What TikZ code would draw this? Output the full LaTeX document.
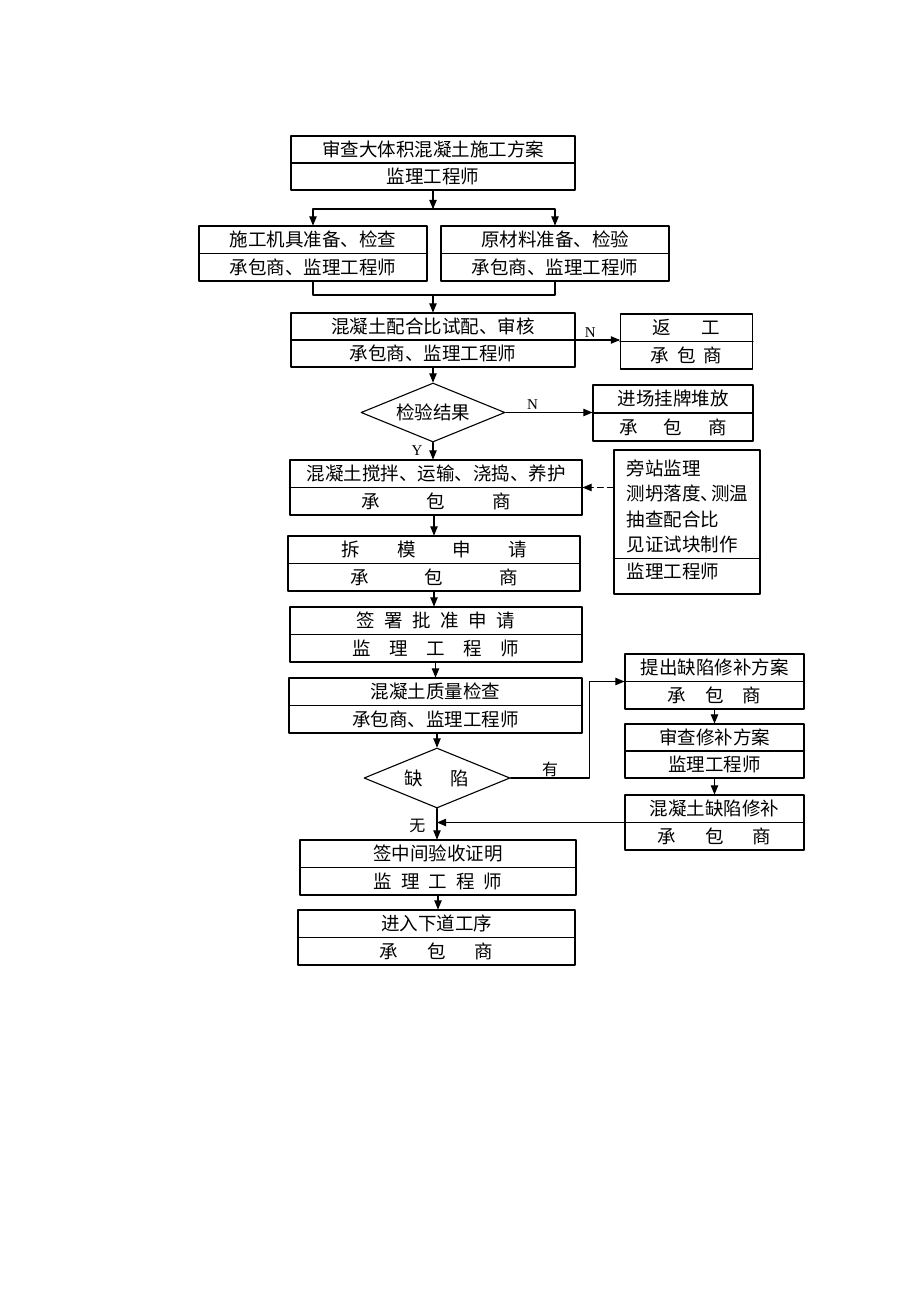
\documentclass[tikz,border=0pt]{standalone}
\usepackage{fontspec}
\setmainfont{Liberation Serif}
\newfontfamily\cjk{Noto Sans CJK SC}
\usetikzlibrary{arrows,calc,shapes.geometric}
\newcommand{\gap}[1]{\hspace{#1pt}}
% box with an upper and a lower line of text
\newcommand{\twobox}[7]{%
  \node[box,minimum width=#4pt,minimum height=#5pt] (#1) at (#2,#3) {};
  \draw (#1.west) -- (#1.east);
  \node[txt] (#1-up) at ($(#1.center)!0.5!(#1.north)$) {#6};
  \node[txt] (#1-lo) at ($(#1.center)!0.5!(#1.south)$) {#7};
}
\tikzset{
  box/.style={draw,inner sep=0pt},
  txt/.style={font=\cjk\fontsize{18.5}{22}\selectfont,inner sep=0pt},
  dec/.style={draw,diamond,inner sep=0pt,aspect=2.4,font=\cjk\fontsize{18.5}{22}\selectfont},
  lbl/.style={font=\fontsize{15}{18}\selectfont,inner sep=0pt},
  cjklbl/.style={font=\cjk\fontsize{16}{18}\selectfont,inner sep=0pt},
}

\begin{document}
\begin{tikzpicture}[line cap=round,line join=round,>=triangle 45,x=1.0pt,y=-1.0pt,line width=1.1pt]
	\useasboundingbox (0,0) rectangle (920,1302);
	\twobox{plan}{433}{163}{284}{54}{审查大体积混凝土施工方案}{监理工程师}
	\twobox{machine}{313}{253.5}{228}{55}{施工机具准备、检查}{承包商、监理工程师}
	\twobox{material}{555}{253.5}{228}{55}{原材料准备、检验}{承包商、监理工程师}
	\twobox{ratio}{433}{340}{284}{54}{混凝土配合比试配、审核}{承包商、监理工程师}
	\twobox{rework}{686.5}{341.5}{132}{55}{返\gap{31}工}{承\gap{8}包\gap{8}商}
	\node[dec,minimum width=144pt,minimum height=59pt] (check) at (433,412.5) {检验结果};
	\twobox{stack}{673}{413}{160}{56}{进场挂牌堆放}{承\gap{26}包\gap{26}商}
	\twobox{mix}{436}{487.5}{292}{55}{混凝土搅拌、运输、浇捣、养护}{承\gap{47}包\gap{47}商}
	% side note box
	\node[box,minimum width=146pt,minimum height=144pt] (side) at (687,522) {};
	\draw ([yshift=36pt]side.south west) -- ([yshift=36pt]side.south east);
	\node[txt,anchor=west] (side-a) at (626,468) {旁站监理};
	\node[txt,anchor=west] (side-b) at (626,493.5) {测坍落度、\gap{-8}测温};
	\node[txt,anchor=west] (side-c) at (626,519.5) {抽查配合比};
	\node[txt,anchor=west] (side-d) at (626,545) {见证试块制作};
	\node[txt,anchor=west] (side-e) at (626,571) {监理工程师};
	\twobox{formwork}{434}{563.5}{292}{55}{拆\gap{37}模\gap{37}申\gap{37}请}{承\gap{56}包\gap{56}商}
	\twobox{approve}{436}{634.5}{292}{55}{签\gap{9.5}署\gap{9.5}批\gap{9.5}准\gap{9.5}申\gap{9.5}请}{监\gap{18.5}理\gap{18.5}工\gap{18.5}程\gap{18.5}师}
	\twobox{quality}{435.5}{705.5}{293}{55}{混凝土质量检查}{承包商、监理工程师}
	\node[dec,minimum width=146pt,minimum height=60pt] (defect) at (437,778) {缺\gap{28}陷};
	\twobox{propose}{714.5}{681.5}{179}{55}{提出缺陷修补方案}{承\gap{19}包\gap{19}商}
	\twobox{review}{714.5}{751}{179}{54}{审查修补方案}{监理工程师}
	\twobox{repair}{714.5}{822.5}{179}{55}{混凝土缺陷修补}{承\gap{29}包\gap{29}商}
	\twobox{cert}{438}{867.5}{276}{55}{签中间验收证明}{监\gap{9}理\gap{9}工\gap{9}程\gap{9}师}
	\twobox{next}{436.5}{937.5}{277}{55}{进入下道工序}{承\gap{29}包\gap{29}商}
	% connectors
	\coordinate (split) at (433,209);
	\coordinate (merge) at (433,295);
	\draw [->] (plan.south) -- (split);
	\draw [->] (split) -| (machine.north);
	\draw [->] (split) -| (material.north);
	\draw (machine.south) |- (merge) -| (material.south);
	\draw [->] (merge) -- (ratio.north);
	\draw [->] (ratio.east) -- (ratio.east -| rework.west) node[lbl,pos=0.33,above=2pt] {N};
	\draw [->] (ratio.south) -- (check.north);
	\draw [->] (check.east) -- (check.east -| stack.west) node[lbl,pos=0.31,above=2pt] {N};
	\draw [->] (check.south) -- (check.south |- mix.north) node[lbl,pos=0.5,left=10pt] {Y};
	\draw [->,dash pattern=on 6pt off 4pt] (side.west |- mix.east) -- (mix.east);
	\draw [->] (mix.south -| formwork.north) -- (formwork.north);
	\draw [->] (formwork.south) -- (formwork.south |- approve.north);
	\draw [->] (approve.south -| quality.north) -- (quality.north);
	\draw [->] (defect.north |- quality.south) -- (defect.north);
	\draw [->] (defect.east) -- node[cjklbl,above=1pt] {有} ++(79,0) |- (propose.west);
	\draw [->] (propose.south) -- (review.north);
	\draw [->] (review.south) -- (repair.north);
	\draw [->] (repair.west) -- (repair.west -| defect.south);
	\draw [->] (defect.south) -- (defect.south |- cert.north) node[cjklbl,pos=0.56,left=11pt] {无};
	\draw [->] (cert.south) -- (cert.south |- next.north);
\end{tikzpicture}
\end{document}
